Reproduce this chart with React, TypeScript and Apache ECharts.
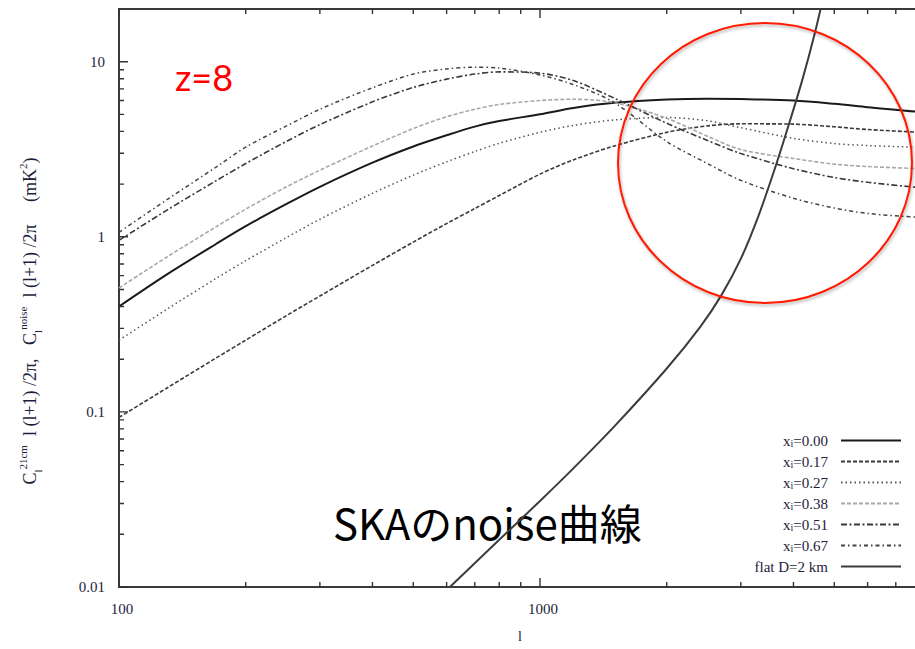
import React, { useEffect, useRef } from 'react';
import * as echarts from 'echarts';

// multipole l (x values) shared by the 21cm curves
const ells = [100, 130, 170, 200, 250, 300, 400, 500, 600, 700, 800, 1000, 1200, 1500, 2000, 2500, 3000, 4000, 5000, 6000, 8000, 10000];

// C_l^21cm l(l+1)/2pi (mK^2) for each ionized fraction
const xi000 = [0.40, 0.61, 0.91, 1.15, 1.54, 1.93, 2.65, 3.28, 3.8, 4.26, 4.58, 5.01, 5.44, 5.82, 6.08, 6.15, 6.12, 6.0, 5.75, 5.5, 5.15, 4.8];
const xi017 = [0.093, 0.137, 0.203, 0.257, 0.355, 0.459, 0.687, 0.933, 1.19, 1.45, 1.72, 2.28, 2.75, 3.3, 3.95, 4.3, 4.42, 4.4, 4.25, 4.1, 3.95, 3.8];
const xi027 = [0.257, 0.386, 0.578, 0.731, 0.99, 1.26, 1.77, 2.25, 2.68, 3.07, 3.42, 3.95, 4.33, 4.65, 4.8, 4.6, 4.2, 3.65, 3.41, 3.32, 3.24, 3.15];
const xi038 = [0.51, 0.767, 1.14, 1.44, 1.93, 2.4, 3.3, 4.15, 4.85, 5.35, 5.7, 6.0, 6.1, 5.85, 4.75, 3.75, 3.15, 2.8, 2.6, 2.52, 2.45, 2.4];
const xi051 = [0.955, 1.42, 2.09, 2.62, 3.51, 4.37, 5.9, 7.13, 7.95, 8.5, 8.75, 8.6, 7.8, 6.2, 4.45, 3.55, 2.99, 2.45, 2.18, 2.05, 1.91, 1.85];
const xi067 = [1.06, 1.63, 2.5, 3.25, 4.3, 5.35, 7.1, 8.5, 9.1, 9.3, 9.2, 8.4, 7.4, 5.85, 3.5, 2.62, 2.1, 1.66, 1.46, 1.36, 1.29, 1.25];

// SKA noise curve (flat D=2 km)
const noiseEll = [611, 800, 1000, 1200, 1500, 2000, 2400, 2700, 3000, 3300, 3600, 3900, 4200, 4500, 4750];
const noiseVal = [0.01, 0.0186, 0.031, 0.0476, 0.0824, 0.177, 0.305, 0.466, 0.75, 1.31, 2.39, 4.38, 7.9, 14.7, 25.5];

// axis ticks
const xMajorTicks = [100, 1000, 10000];
const xMinorTicks = [200, 300, 400, 500, 600, 700, 800, 900, 2000, 3000, 4000, 5000, 6000, 7000, 8000, 9000];
const yMajorTicks = [0.01, 0.1, 1, 10];
const yMinorTicks = [0.02, 0.03, 0.04, 0.05, 0.06, 0.07, 0.08, 0.09, 0.2, 0.3, 0.4, 0.5, 0.6, 0.7, 0.8, 0.9, 2, 3, 4, 5, 6, 7, 8, 9];
const xTickLabels = ['100', '1000'];
const yTickLabels = ['0.01', '0.1', '1', '10'];

const seriesNames = ['x_i=0.00', 'x_i=0.17', 'x_i=0.27', 'x_i=0.38', 'x_i=0.51', 'x_i=0.67', 'flat D=2 km'];

const LABEL_COLOR = '#1e1e3c';
const SERIF = 'Liberation Serif';

const X_MIN = 100, X_MAX = 10000, Y_MIN = 0.01, Y_MAX = 20;
const GRID_W = 842, GRID_H = 578;

export default function App() {
  const ref = useRef<HTMLDivElement>(null);
  useEffect(() => {
    if (!ref.current) return;
    const chart = echarts.init(ref.current, null, { renderer: 'svg' });

    const curves = [xi000, xi017, xi027, xi038, xi051, xi067];
    const styles: any[] = [
      { color: '#1a1a1a', width: 2, type: 'solid' },
      { color: '#3a3a3a', width: 1.6, type: [4, 2] },
      { color: '#555555', width: 1.5, type: [1.5, 3] },
      { color: '#a8a8a8', width: 1.6, type: [4, 2] },
      { color: '#3a3a3a', width: 1.6, type: [6, 2.5, 2, 2.5] },
      { color: '#444444', width: 1.5, type: [4, 3, 1.5, 3] },
    ];
    const lineSeries: any[] = curves.map((vals, i) => ({
      type: 'line',
      name: seriesNames[i],
      data: ells.map((l, j) => [l, vals[j]]),
      symbol: 'none',
      smooth: 0.3,
      clip: true,
      color: styles[i].color,
      lineStyle: { color: styles[i].color, width: styles[i].width, type: styles[i].type },
      z: 3,
    }));
    lineSeries.push({
      type: 'line',
      name: seriesNames[6],
      data: noiseEll.map((l, j) => [l, noiseVal[j]]),
      symbol: 'none',
      smooth: 0.25,
      clip: true,
      color: '#3c3c3c',
      lineStyle: { color: '#3c3c3c', width: 2, type: 'solid' },
      z: 4,
    });

    // tick marks as short segments in data space (pixel length -> log factor)
    const xPxPerDecade = GRID_W / Math.log10(X_MAX / X_MIN);
    const yPxPerDecade = GRID_H / Math.log10(Y_MAX / Y_MIN);
    const xf = (px: number) => Math.pow(10, px / xPxPerDecade);
    const yf = (px: number) => Math.pow(10, px / yPxPerDecade);
    const xTickData: any[] = [];
    const pushX = (v: number, len: number) => {
      xTickData.push([v, Y_MIN], [v, Y_MIN * yf(len)], [v, '-']);
      xTickData.push([v, Y_MAX], [v, Y_MAX / yf(len)], [v, '-']);
    };
    xMajorTicks.forEach((v) => pushX(v, 9));
    xMinorTicks.forEach((v) => pushX(v, 5));
    const yTickData: any[] = [];
    const pushY = (v: number, len: number) => {
      yTickData.push([X_MIN, v], [X_MIN * xf(len), v], ['-', v]);
    };
    yMajorTicks.forEach((v) => pushY(v, 9));
    yMinorTicks.forEach((v) => pushY(v, 5));
    const tickSeries = (data: any[]) => ({
      type: 'line',
      data,
      symbol: 'none',
      silent: true,
      connectNulls: false,
      clip: false,
      z: 5,
      lineStyle: { color: '#333333', width: 1.4 },
    });

    const isPow10 = (v: number) => Math.abs(Math.log10(v) - Math.round(Math.log10(v))) < 1e-6;

    const option: any = {
      animation: false,
      backgroundColor: '#ffffff',
      grid: {
        left: 119,
        top: 9,
        width: GRID_W,
        height: GRID_H,
        containLabel: false,
        outerBoundsMode: 'none',
        show: true,
        borderColor: '#3a3a3a',
        borderWidth: 2,
        backgroundColor: 'transparent',
      },
      xAxis: {
        type: 'log',
        logBase: 10,
        min: X_MIN,
        max: X_MAX,
        axisLine: { show: false },
        axisTick: { show: false },
        splitLine: { show: false },
        axisLabel: {
          interval: 0,
          margin: 14,
          color: LABEL_COLOR,
          fontFamily: SERIF,
          fontSize: 15,
          padding: [0, 0, 0, 6],
          formatter: (v: number) => {
            const s = String(Math.round(v));
            return isPow10(v) && xTickLabels.includes(s) ? s : '';
          },
        },
      },
      yAxis: {
        type: 'log',
        logBase: 10,
        min: Y_MIN,
        max: Y_MAX,
        axisLine: { show: false },
        axisTick: { show: false },
        splitLine: { show: false },
        axisLabel: {
          interval: 0,
          margin: 14,
          color: LABEL_COLOR,
          fontFamily: SERIF,
          fontSize: 15,
          formatter: (v: number) => {
            if (!isPow10(v)) return '';
            const s = String(Number(v.toPrecision(3)));
            return yTickLabels.includes(s) ? s : '';
          },
        },
      },
      legend: {
        orient: 'vertical',
        right: 8,
        top: 428,
        align: 'right',
        itemWidth: 60,
        itemHeight: 14,
        itemGap: 6,
        selectedMode: false,
        data: seriesNames,
        itemStyle: { opacity: 0 },
        formatter: (name: string) => name.replace('x_i', 'x{sub|i}'),
        textStyle: {
          fontFamily: SERIF,
          fontSize: 15,
          color: LABEL_COLOR,
          lineHeight: 15,
          padding: [0, 8, 0, 0],
          rich: {
            sub: { fontFamily: SERIF, fontSize: 10, color: LABEL_COLOR, verticalAlign: 'bottom', lineHeight: 15 },
          },
        },
      },
      graphic: [
        {
          type: 'text',
          x: 30,
          y: 321,
          rotation: Math.PI / 2,
          style: {
            text: '{m|C}{sub|l}{sup|21cm}{m|  l (l+1) /2π,   C}{sub|l}{sup|noise}{m|  l (l+1) /2π     (mK}{sup|2}{m|)}',
            align: 'center',
            verticalAlign: 'middle',
            fill: LABEL_COLOR,
            rich: {
              m: { fontFamily: SERIF, fontSize: 18, fill: LABEL_COLOR, lineHeight: 26, verticalAlign: 'middle' },
              sub: { fontFamily: SERIF, fontSize: 11, fill: LABEL_COLOR, lineHeight: 26, verticalAlign: 'bottom' },
              sup: { fontFamily: SERIF, fontSize: 11, fill: LABEL_COLOR, lineHeight: 26, verticalAlign: 'top' },
            },
          },
        },
        {
          type: 'text',
          x: 520,
          y: 636,
          style: { text: 'l', fontFamily: SERIF, fontSize: 14, fill: LABEL_COLOR, align: 'center', verticalAlign: 'middle' },
        },
        {
          type: 'text',
          x: 175,
          y: 77,
          style: { text: 'z=8', fontFamily: 'Lato', fontSize: 36, fill: '#ff0000', align: 'left', verticalAlign: 'middle' },
        },
        {
          type: 'text',
          x: 333,
          y: 521,
          style: { text: 'SKAのnoise曲線', fontFamily: 'Noto Sans CJK JP', fontSize: 42, fill: '#000000', align: 'left', verticalAlign: 'middle' },
        },
        {
          type: 'ellipse',
          z: 10,
          shape: { cx: 765, cy: 163, rx: 147, ry: 140 },
          style: {
            fill: 'none',
            stroke: '#ff1a00',
            lineWidth: 2,
            shadowBlur: 3,
            shadowColor: 'rgba(0,0,0,0.3)',
            shadowOffsetX: 1,
            shadowOffsetY: 2,
          },
        },
      ],
      series: [...lineSeries, tickSeries(xTickData), tickSeries(yTickData)],
    };
    chart.setOption(option);
    return () => chart.dispose();
  }, []);
  return (
    <div
      ref={ref}
      style={{ position: 'absolute', left: 0, top: 0, width: 915, height: 649, background: '#fff' }}
    />
  );
}
